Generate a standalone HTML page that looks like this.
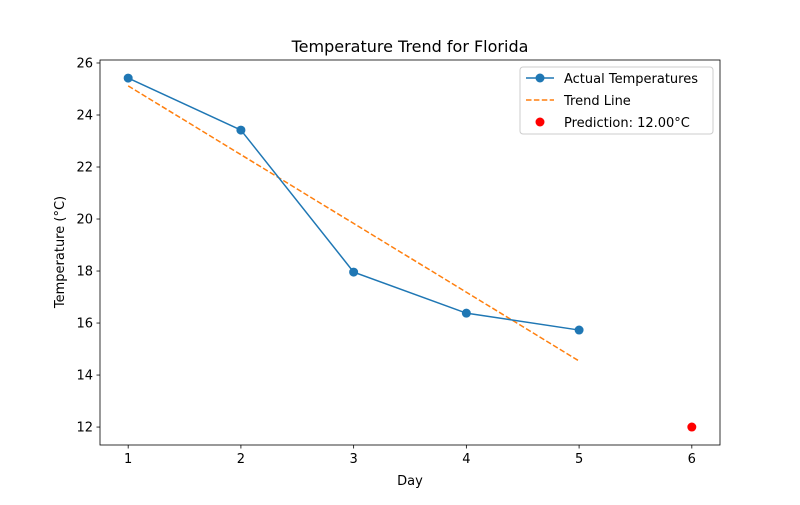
<!DOCTYPE html>
<html><head><meta charset="utf-8"><style>
body{margin:0;background:#fff;}
svg text{font-family:"DejaVu Sans","Liberation Sans",sans-serif;}
</style></head><body>
<svg id="chart" width="800" height="500" xmlns="http://www.w3.org/2000/svg"></svg>
<script>
const days = [1, 2, 3, 4, 5];
const temps = [25.42, 23.42, 17.96, 16.38, 15.73];
const trendX = [1, 5];
const trendY = [25.12, 14.54];
const predX = [6];
const predY = [12.0];
const xTicks = [1, 2, 3, 4, 5, 6];
const yTicks = [12, 14, 16, 18, 20, 22, 24, 26];

const L=100,R=720,T=60,B=445;
const xMin=0.75,xMax=6.25,yMin=11.31,yMax=26.115;
const sx=v=>L+(v-xMin)/(xMax-xMin)*(R-L);
const sy=v=>B-(v-yMin)/(yMax-yMin)*(B-T);
const svg=document.getElementById('chart');
const NS='http://www.w3.org/2000/svg';
function mk(tag,attrs,parent){const e=document.createElementNS(NS,tag);for(const k in attrs)e.setAttribute(k,attrs[k]);(parent||svg).appendChild(e);return e;}

// ticks
xTicks.forEach(t=>{
  const g=mk('g',{});
  
  
  mk('line',{x1:sx(t),x2:sx(t),y1:B,y2:B+3.5,stroke:'#000','stroke-width':0.8},g);
  const tx=mk('text',{x:sx(t),y:B+18,'text-anchor':'middle','font-size':13},g);tx.textContent=t;
});
yTicks.forEach(t=>{
  const g=mk('g',{});
  
  
  mk('line',{x1:L-3.5,x2:L,y1:sy(t),y2:sy(t),stroke:'#000','stroke-width':0.8},g);
  const tx=mk('text',{x:L-7,y:sy(t)+4.5,'text-anchor':'end','font-size':13},g);tx.textContent=t;
});

// trend
const tr=mk('polyline',{points:trendX.map((x,i)=>sx(x)+','+sy(trendY[i])).join(' '),fill:'none',stroke:'#ff7f0e','stroke-width':1.5,'stroke-dasharray':'5.5,2.4'});


// actual
const ln=mk('polyline',{points:days.map((x,i)=>sx(x)+','+sy(temps[i])).join(' '),fill:'none',stroke:'#1f77b4','stroke-width':1.5});


days.forEach((x,i)=>{
  const c=mk('circle',{cx:sx(x),cy:sy(temps[i]),r:4.5,fill:'#1f77b4'});
  
  
});
predX.forEach((x,i)=>{
  const c=mk('circle',{cx:sx(x),cy:sy(predY[i]),r:4.5,fill:'#ff0000'});
  
  
});

// frame
const fr=mk('rect',{x:L,y:T,width:R-L,height:B-T,fill:'none',stroke:'#000','stroke-width':0.8});



// titles
let t=mk('text',{x:410,y:52,'text-anchor':'middle','font-size':16});t.textContent='Temperature Trend for Florida';


t=mk('text',{x:410,y:485,'text-anchor':'middle','font-size':13});t.textContent='Day';


t=mk('text',{x:64,y:252,'text-anchor':'middle','font-size':13,transform:'rotate(-90 64 252)'});t.textContent='Temperature (°C)';



// legend
const lg=mk('g',{});


mk('rect',{x:520,y:67,width:193,height:67,rx:3,fill:'#fff','fill-opacity':0.8,stroke:'#ccc','stroke-width':1},lg);
mk('line',{x1:526,x2:554,y1:78,y2:78,stroke:'#1f77b4','stroke-width':1.5},lg);
mk('circle',{cx:540,cy:78,r:4.5,fill:'#1f77b4'},lg);
let lt=mk('text',{x:564,y:83,'font-size':13},lg);lt.textContent='Actual Temperatures';
mk('line',{x1:526,x2:554,y1:100,y2:100,stroke:'#ff7f0e','stroke-width':1.5,'stroke-dasharray':'5.5,2.4'},lg);
lt=mk('text',{x:564,y:105,'font-size':13},lg);lt.textContent='Trend Line';
mk('circle',{cx:540,cy:122,r:4.5,fill:'#ff0000'},lg);
lt=mk('text',{x:564,y:127,'font-size':13},lg);lt.textContent='Prediction: 12.00°C';
</script>
</body></html>
